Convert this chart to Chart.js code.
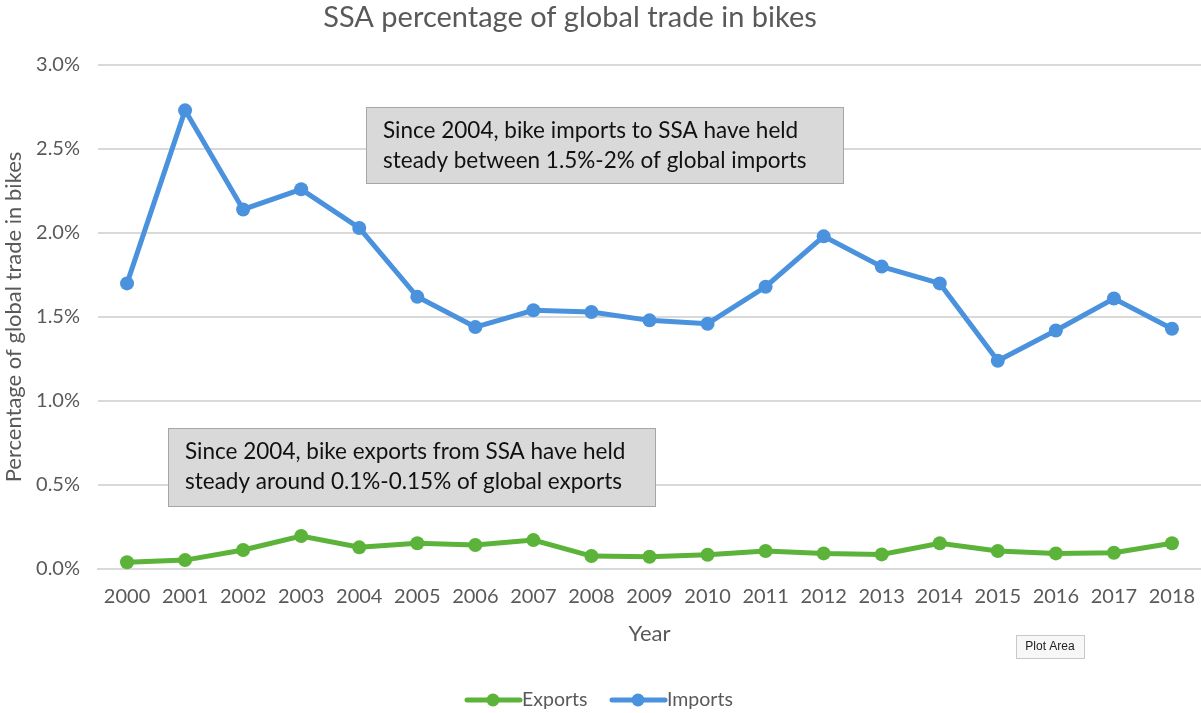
<!DOCTYPE html>
<html>
<head>
<meta charset="utf-8">
<script src="https://cdn.jsdelivr.net/npm/chart.js@4"></script>
<style>
  html, body { margin: 0; padding: 0; background: #ffffff; }
  #wrap { width: 1201px; height: 713px; }
</style>
</head>
<body>
<div id="wrap"><canvas id="c" width="1201" height="713"></canvas></div>
<script>
const years = ['2000','2001','2002','2003','2004','2005','2006','2007','2008','2009','2010','2011','2012','2013','2014','2015','2016','2017','2018'];
const exportsPct = [0.04, 0.053, 0.113, 0.196, 0.129, 0.153, 0.143, 0.172, 0.077, 0.073, 0.085, 0.107, 0.093, 0.087, 0.153, 0.107, 0.093, 0.097, 0.153];
const importsPct = [1.70, 2.73, 2.14, 2.26, 2.03, 1.62, 1.44, 1.54, 1.53, 1.48, 1.46, 1.68, 1.98, 1.80, 1.70, 1.24, 1.42, 1.61, 1.43];
const yTickValues = [0, 0.5, 1.0, 1.5, 2.0, 2.5, 3.0];
const chartTitle = 'SSA percentage of global trade in bikes';
const yTitle = 'Percentage of global trade in bikes';
const xTitle = 'Year';
const noteImports = ['Since 2004, bike imports to SSA have held', 'steady between 1.5%-2% of global imports'];
const noteExports = ['Since 2004, bike exports from SSA have held', 'steady around 0.1%-0.15% of global exports'];

const GREEN = '#5BB33A';
const BLUE = '#4A92DD';
const FONT = 'Lato, "Open Sans", sans-serif';

const overlay = {
  id: 'overlay',
  afterDraw(chart) {
    const ctx = chart.ctx;
    ctx.save();
    // title
    ctx.fillStyle = '#595959';
    ctx.font = '29px ' + FONT;
    ctx.textAlign = 'center';
    ctx.textBaseline = 'middle';
    ctx.fillText(chartTitle, 570, 18);

    // note boxes
    function note(x, y, w, h, lines) {
      ctx.fillStyle = '#D9D9D9';
      ctx.fillRect(x, y, w, h);
      ctx.strokeStyle = '#A6A6A6';
      ctx.lineWidth = 1;
      ctx.strokeRect(x + 0.5, y + 0.5, w, h);
      ctx.fillStyle = '#111111';
      ctx.font = '22.5px ' + FONT;
      ctx.textAlign = 'left';
      ctx.textBaseline = 'middle';
      lines.forEach((t, i) => ctx.fillText(t, x + 17, y + 24 + i * 30));
    }
    note(366, 107, 477, 76, noteImports);
    note(168, 428, 487, 78, noteExports);

    // legend
    const ly = 700;
    const items = [
      {x: 467, color: GREEN, label: chart.data.datasets[0].label},
      {x: 612, color: BLUE, label: chart.data.datasets[1].label}
    ];
    items.forEach(it => {
      ctx.strokeStyle = it.color;
      ctx.lineWidth = 5;
      ctx.lineCap = 'round';
      ctx.beginPath();
      ctx.moveTo(it.x, ly);
      ctx.lineTo(it.x + 53, ly);
      ctx.stroke();
      ctx.fillStyle = it.color;
      ctx.beginPath();
      ctx.arc(it.x + 26, ly, 6.5, 0, Math.PI * 2);
      ctx.fill();
      ctx.fillStyle = '#595959';
      ctx.font = '19.5px ' + FONT;
      ctx.textAlign = 'left';
      ctx.textBaseline = 'middle';
      ctx.fillText(it.label, it.x + 55, ly);
    });

    // "Plot Area" tooltip
    ctx.fillStyle = '#F7F7F7';
    ctx.fillRect(1016, 635, 68, 23);
    ctx.strokeStyle = '#C8C8C8';
    ctx.lineWidth = 1;
    ctx.strokeRect(1016.5, 635.5, 68, 23);
    ctx.fillStyle = '#222222';
    ctx.font = '12px "Liberation Sans", Arial, sans-serif';
    ctx.textAlign = 'center';
    ctx.textBaseline = 'middle';
    ctx.fillText('Plot Area', 1050, 647);
    ctx.restore();
  }
};

new Chart(document.getElementById('c'), {
  type: 'line',
  data: {
    labels: years,
    datasets: [
      {
        label: 'Exports',
        data: exportsPct,
        borderColor: GREEN,
        backgroundColor: GREEN,
        borderWidth: 5,
        pointRadius: 7,
        pointHoverRadius: 7,
        pointBorderWidth: 0,
        tension: 0,
        clip: false
      },
      {
        label: 'Imports',
        data: importsPct,
        borderColor: BLUE,
        backgroundColor: BLUE,
        borderWidth: 5,
        pointRadius: 7,
        pointHoverRadius: 7,
        pointBorderWidth: 0,
        tension: 0,
        clip: false
      }
    ]
  },
  options: {
    responsive: false,
    animation: false,
    events: [],
    layout: { autoPadding: false, padding: { top: 65, left: 0, right: -4, bottom: 0 } },
    plugins: {
      legend: { display: false },
      title: { display: false },
      tooltip: { enabled: false }
    },
    scales: {
      x: {
        offset: true,
        grid: { display: false, drawTicks: false },
        border: { display: true, color: '#D9D9D9', width: 2 },
        ticks: { color: '#595959', font: { family: FONT, size: 20, lineHeight: 2.8 }, padding: 0, maxRotation: 0, autoSkip: false },
        title: { display: true, text: xTitle, color: '#595959', font: { family: FONT, size: 22 }, padding: { top: 0, bottom: 66 } },
        afterFit(scale) { scale.height = 144; scale.paddingLeft = 0; scale.paddingRight = 0; }
      },
      y: {
        min: 0,
        max: 3,
        afterBuildTicks(scale) { scale.ticks = yTickValues.map(v => ({ value: v })); },
        grid: { color: '#D9D9D9', lineWidth: 2, drawTicks: false },
        border: { display: false },
        ticks: { color: '#595959', font: { family: FONT, size: 20 }, padding: 18, callback: v => v.toFixed(1) + '%' },
        title: { display: true, text: yTitle, color: '#595959', font: { family: FONT, size: 22 }, padding: { top: 1, bottom: 0 } },
        afterFit(scale) { scale.width = 98; scale.paddingTop = 0; scale.paddingBottom = 0; }
      }
    }
  },
  plugins: [overlay]
});
</script>
</body>
</html>
